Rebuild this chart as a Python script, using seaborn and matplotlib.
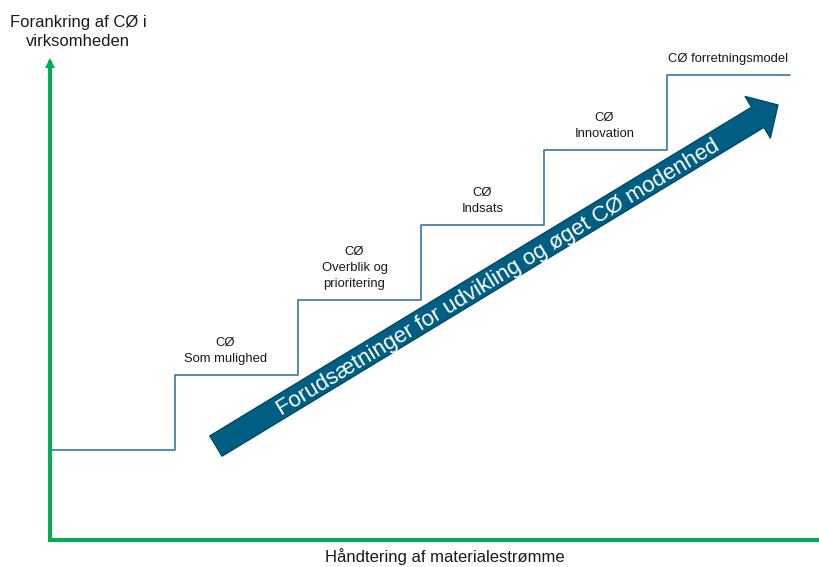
import numpy as np
import pandas as pd
import matplotlib
matplotlib.use("Agg")
import matplotlib.pyplot as plt
import seaborn as sns
from matplotlib.patches import FancyArrowPatch

# ---- data ----
step_edges = [0, 1, 2, 3, 4, 5, 6]
step_levels = [0, 1, 2, 3, 4, 5, 5]
stage_labels = ["CØ\nSom mulighed", "CØ\nOverblik og\nprioritering", "CØ\nIndsats",
                "CØ\nInnovation", "CØ forretningsmodel"]
stage_label_x = [1.41, 2.46, 3.50, 4.49, 5.50]
stage_label_level = [1, 2, 3, 4, 5]
y_title = "Forankring af CØ i\nvirksomheden"
x_title = "Håndtering af materialestrømme"
arrow_text = "Forudsætninger for udvikling og øget CØ modenhed"
arrow_start = (1.333, 0.053)
arrow_end = (5.902, 4.60)

sns.set_theme(style="white")
plt.rcParams["font.family"] = ["Liberation Sans", "DejaVu Sans"]

W, H = 819, 567
fig = plt.figure(figsize=(W / 100, H / 100), dpi=100)
left_px, right_px, bottom_px, top_px = 50, 819, 540, 63
ax = fig.add_axes([left_px / W, (H - bottom_px) / H, (right_px - left_px) / W,
                   (bottom_px - top_px) / H])

# pixel mapping: x=0 -> 52px, 123 px per unit; level 0 -> 450px, 75 px per unit
ax.set_xlim((left_px - 52) / 123, (right_px - 52) / 123)
ax.set_ylim((450 - bottom_px) / 75, (450 - top_px) / 75)

df = pd.DataFrame({"edge": step_edges, "level": step_levels})
sns.lineplot(data=df, x="edge", y="level", ax=ax, drawstyle="steps-post",
             color="#2B6A99", linewidth=1.1, estimator=None, sort=False)

green = "#00B050"
ax.set_xticks([])
ax.set_yticks([])
ax.set_xlabel("")
ax.set_ylabel("")
for s in ["top", "right"]:
    ax.spines[s].set_visible(False)
for s in ["left", "bottom"]:
    ax.spines[s].set_color(green)
    ax.spines[s].set_linewidth(2.9)
ax.plot([0], [1], marker="^", markersize=7.5, color=green, transform=ax.transAxes,
        clip_on=False, markeredgewidth=0)

for lab, lx, lv in zip(stage_labels, stage_label_x, stage_label_level):
    ax.annotate(lab, xy=(lx, lv), xytext=(0, 7), textcoords="offset points",
                ha="center", va="bottom", fontsize=9.4, color="#1a1a1a",
                linespacing=1.45, annotation_clip=False)

arrow = FancyArrowPatch(posA=arrow_start, posB=arrow_end,
                        arrowstyle="simple,head_length=17,head_width=35,tail_width=17",
                        mutation_scale=1, facecolor="#005E82", edgecolor="#004A68",
                        linewidth=1.0, shrinkA=0, shrinkB=0, clip_on=False,
                        transform=ax.transData)
ax.add_patch(arrow)

fig.canvas.draw()
p1 = ax.transData.transform(arrow_start)
p2 = ax.transData.transform(arrow_end)
angle = np.degrees(np.arctan2(p2[1] - p1[1], p2[0] - p1[0]))
mid = ((arrow_start[0] + arrow_end[0]) / 2, (arrow_start[1] + arrow_end[1]) / 2)
rad = np.radians(angle)
off = (2.2 * np.sin(rad), -2.2 * np.cos(rad))
ax.annotate(arrow_text, xy=mid, xytext=off, textcoords="offset points",
            rotation=angle, rotation_mode="anchor", ha="center", va="center",
            fontsize=16, color="white", annotation_clip=False)

fig.text(78 / W, 1 - 32 / H, y_title, ha="center", va="center", fontsize=12,
         color="#1a1a1a", linespacing=1.4)
fig.text(445 / W, 1 - 557 / H, x_title, ha="center", va="center", fontsize=12,
         color="#1a1a1a")

fig.savefig("out.png", dpi=100)
